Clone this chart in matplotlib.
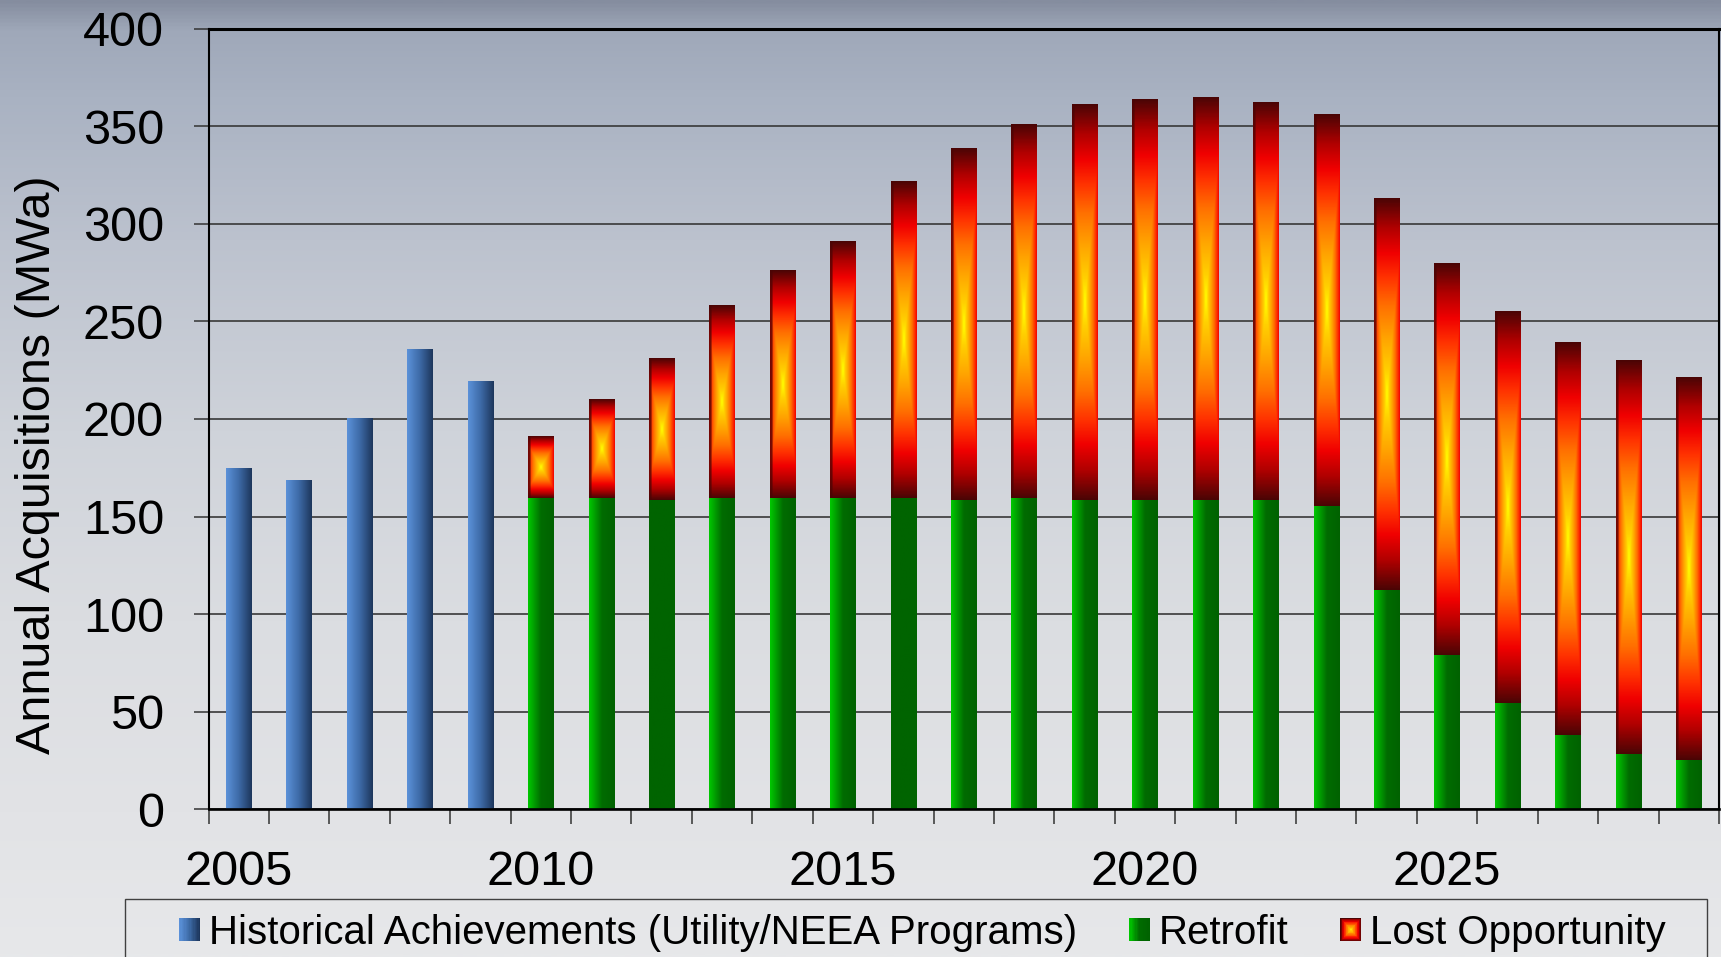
import numpy as np
import matplotlib
matplotlib.use('Agg')
import matplotlib.pyplot as plt
from matplotlib.patches import Rectangle
from matplotlib.colors import LinearSegmentedColormap, to_rgb
from matplotlib.legend_handler import HandlerBase

plt.rcParams['font.family'] = ['Liberation Sans', 'DejaVu Sans']

# ---------------- data ----------------
years = list(range(2005, 2030))
hist_years = [2005, 2006, 2007, 2008, 2009]
historical = [174.5, 168.3, 200.0, 235.2, 218.8]
proj_years = list(range(2010, 2030))
retrofit = [159.6, 159.6, 158.4, 159.6, 159.6, 159.6, 159.6, 158.6, 159.6, 158.5,
            158.5, 158.5, 158.5, 155.6, 112.5, 78.8, 54.6, 37.9, 28.5, 25.1]
lost_opportunity = [31.6, 50.6, 72.7, 98.8, 116.7, 131.4, 161.9, 180.2, 191.4, 202.8,
                    205.3, 206.3, 203.8, 200.5, 200.6, 200.5, 200.6, 200.9, 201.7, 195.7]
label_years = [2005, 2010, 2015, 2020, 2025]
series_names = ['Historical Achievements (Utility/NEEA Programs)', 'Retrofit', 'Lost Opportunity']
y_label = 'Annual Acquisitions (MWa)'
retrofit_solid_years = [2012, 2016]   # bars rendered flat dark green in the original

# ---------------- styles ----------------
W, H = 1721, 957
blue_cmap = LinearSegmentedColormap.from_list('blue', ['#5b91d9', '#3d6aa6', '#1d365c'])
green_cmap = LinearSegmentedColormap.from_list('green', [(0, '#00c800'), (0.5, '#006c00'), (1, '#006200')])
lost_cmap = LinearSegmentedColormap.from_list('lost', [
    (0.00, '#ffff00'), (0.12, '#ffd000'), (0.28, '#ffa500'), (0.45, '#ff7000'),
    (0.60, '#ff3000'), (0.72, '#f00000'), (0.85, '#b00000'), (1.00, '#4a0505')])
bg_cmap = LinearSegmentedColormap.from_list('bg', [
    (0.0, '#858d9f'), (0.03, '#9fa8b9'), (0.10, '#a9b2c2'), (0.25, '#bcc2ce'),
    (0.45, '#cfd3da'), (0.65, '#dbdde1'), (0.85, '#e2e3e6'), (1.0, '#e7e8ea')])

fig = plt.figure(figsize=(W / 100, H / 100), dpi=100)

bg = fig.add_axes([0, 0, 1, 1], zorder=-10)
bg.imshow(np.linspace(0, 1, 512).reshape(-1, 1), cmap=bg_cmap, aspect='auto',
          extent=[0, 1, 0, 1], origin='upper', interpolation='bilinear')
bg.set_axis_off()

L, R, T, B = 208.5, 1719, 28.5, 809.3
ax = fig.add_axes([L / W, 1 - B / H, (R - L) / W, (B - T) / H])
ax.set_facecolor('none')

idx = {y: i for i, y in enumerate(years)}
xh = [idx[y] for y in hist_years]
xp = [idx[y] for y in proj_years]
bw = 0.42
hb = ax.bar(xh, historical, width=bw, color='none', linewidth=0)
rb = ax.bar(xp, retrofit, width=bw, color='none', linewidth=0)
lb = ax.bar(xp, lost_opportunity, bottom=retrofit, width=bw, color='none', linewidth=0)


def hgrad_img(cmap, n=64):
    return cmap(np.linspace(0, 1, n)).reshape(1, n, 4)


def lost_img(nr=400, nc=60):
    u = (np.arange(nc) + 0.5) / nc
    v = (np.arange(nr) + 0.5) / nr
    U, V = np.meshgrid(u, v)
    t = np.maximum(0.72 * np.abs(2 * U - 1), np.abs(2 * V - 1))
    rgb = lost_cmap(t)[..., :3]
    strip = U < 0.1
    rgb[strip] = rgb[strip] * 0.25 + np.array(to_rgb('#4a0505')) * 0.75
    return rgb


def paint(patch, img):
    x0, w = patch.get_x(), patch.get_width()
    y0, h = patch.get_y(), patch.get_height()
    ax.imshow(img, extent=[x0, x0 + w, y0, y0 + h], aspect='auto', origin='upper',
              interpolation='bilinear', zorder=2)


for p in hb.patches:
    paint(p, hgrad_img(blue_cmap))
solid_green = np.array(to_rgb('#006400')).reshape(1, 1, 3)
for yr, p in zip(proj_years, rb.patches):
    paint(p, solid_green if yr in retrofit_solid_years else hgrad_img(green_cmap))
LIMG = lost_img()
for p in lb.patches:
    paint(p, LIMG)

ax.set_xlim(-0.5, len(years) - 0.5)
ax.set_ylim(0, 400)
ax.set_yticks(np.arange(0, 401, 50))
ax.set_xticks([idx[y] for y in label_years])
ax.set_xticklabels([str(y) for y in label_years])
ax.set_xticks(np.arange(-0.5, len(years), 1), minor=True)
ax.tick_params(axis='x', which='major', length=0, pad=29, labelsize=35)
ax.tick_params(axis='x', which='minor', length=11, width=1.1, color='#333333', direction='out')
ax.tick_params(axis='y', which='major', length=11, width=1.1, color='#333333', pad=21,
               labelsize=35, direction='out')
ax.yaxis.grid(True, color='#383838', linewidth=1.2)
ax.set_axisbelow(True)
for side, lw in [('left', 1.5), ('right', 1.5), ('top', 2.2), ('bottom', 1.9)]:
    ax.spines[side].set_linewidth(lw)
    ax.spines[side].set_color('black')

fig.text(38 / W, 1 - 465 / H, y_label, rotation=90, ha='center', va='center', fontsize=35)


class GradientHandler(HandlerBase):
    def __init__(self, kind):
        super().__init__()
        self.kind = kind

    def create_artists(self, legend, orig_handle, xdescent, ydescent, width, height, fontsize, trans):
        x0, y0 = -xdescent, -ydescent
        arts = []
        n = 16
        if self.kind == 'lost':
            for i in range(n):
                t = 1 - i / n
                w, h = width * t, height * t
                arts.append(Rectangle((x0 + (width - w) / 2, y0 + (height - h) / 2), w, h,
                                      facecolor=lost_cmap(t), edgecolor='none', transform=trans))
        else:
            cm = blue_cmap if self.kind == 'blue' else green_cmap
            for i in range(n):
                arts.append(Rectangle((x0 + width * i / n, y0), width / n * 1.1, height,
                                      facecolor=cm(i / (n - 1)), edgecolor='none', transform=trans))
        return arts


leg = fig.legend([hb, rb, lb], series_names, loc='upper left',
                 bbox_to_anchor=(179 / W, 1 - 914 / H), bbox_transform=fig.transFigure,
                 ncol=3, frameon=False, fontsize=29, handlelength=0.52, handleheight=0.52,
                 handletextpad=0.22, columnspacing=1.29, borderpad=0, borderaxespad=0,
                 handler_map={hb: GradientHandler('blue'), rb: GradientHandler('green'),
                              lb: GradientHandler('lost')})
fig.add_artist(Rectangle((125 / W, -0.1), (1707 - 125) / W, 0.1 + 1 - 899 / H,
                         transform=fig.transFigure, facecolor='none', edgecolor='#404040', lw=1.0))

fig.savefig('out.png', dpi=100)
